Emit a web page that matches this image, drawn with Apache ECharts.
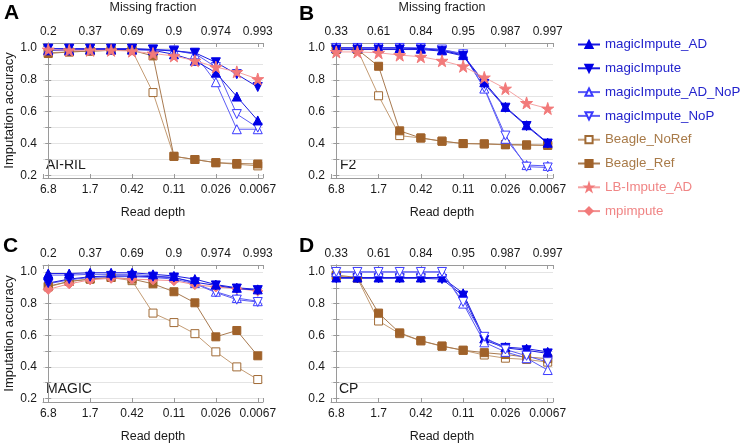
<!DOCTYPE html>
<html>
<head>
<meta charset="utf-8">
<script src="https://cdn.jsdelivr.net/npm/echarts@6/dist/echarts.min.js"></script>
<style>
  html, body { margin: 0; padding: 0; background: #fff; }
  #chart { width: 742px; height: 445px; }
</style>
</head>
<body>
<div id="chart"></div>
<script>
// ---------- DATA ----------
const readDepthLabels = ['6.8', '1.7', '0.42', '0.11', '0.026', '0.0067'];
const missingLabelsAC = ['0.2', '0.37', '0.69', '0.9', '0.974', '0.993'];
const missingLabelsBD = ['0.33', '0.61', '0.84', '0.95', '0.987', '0.997'];
const seriesNames = ['magicImpute_AD', 'magicImpute', 'magicImpute_AD_NoP', 'magicImpute_NoP',
                     'Beagle_NoRef', 'Beagle_Ref', 'LB-Impute_AD', 'mpimpute'];
const panelNames = ['AI-RIL', 'F2', 'MAGIC', 'CP'];

// Panel A (AI-RIL)
const A_magicImpute_AD     = [0.985, 0.985, 0.99, 0.99, 0.99, 0.985, 0.96, 0.92, 0.845, 0.695, 0.545];
const A_magicImpute        = [0.995, 0.995, 0.995, 0.995, 0.995, 0.99, 0.98, 0.97, 0.91, 0.835, 0.755];
const A_magicImpute_AD_NoP = [0.99, 0.99, 0.99, 0.99, 0.99, 0.99, 0.985, 0.96, 0.785, 0.49, 0.49];
const A_magicImpute_NoP    = [0.995, 0.995, 0.995, 0.995, 0.995, 0.99, 0.985, 0.965, 0.88, 0.585, 0.50];
const A_Beagle_NoRef       = [0.97, 0.975, 0.98, 0.985, 0.985, 0.72, 0.32, 0.30, 0.28, 0.27, 0.26];
const A_Beagle_Ref         = [0.965, 0.975, 0.98, 0.985, 0.985, 0.95, 0.32, 0.30, 0.28, 0.275, 0.272];
const A_LB_Impute_AD       = [0.99, 0.985, 0.985, 0.985, 0.98, 0.965, 0.95, 0.92, 0.88, 0.85, 0.805];

// Panel B (F2)
const B_magicImpute_AD     = [1.0, 1.0, 1.0, 1.0, 0.995, 0.985, 0.955, 0.785, 0.63, 0.515, 0.405];
const B_magicImpute        = [0.99, 0.99, 0.99, 0.99, 0.99, 0.98, 0.95, 0.775, 0.625, 0.51, 0.40];
const B_magicImpute_AD_NoP = [1.0, 1.0, 1.0, 1.0, 1.0, 0.99, 0.965, 0.745, 0.43, 0.265, 0.26];
const B_magicImpute_NoP    = [1.0, 1.0, 1.0, 1.0, 1.0, 0.99, 0.96, 0.75, 0.45, 0.255, 0.25];
const B_Beagle_NoRef       = [0.99, 0.99, 0.70, 0.45, 0.435, 0.415, 0.40, 0.398, 0.392, 0.39, 0.388];
const B_Beagle_Ref         = [0.99, 0.99, 0.885, 0.48, 0.435, 0.415, 0.40, 0.398, 0.394, 0.392, 0.39];
const B_LB_Impute_AD       = [0.975, 0.975, 0.97, 0.955, 0.945, 0.92, 0.885, 0.815, 0.745, 0.655, 0.62];

// Panel C (MAGIC)
const C_magicImpute_AD     = [0.99, 0.99, 0.995, 0.995, 0.995, 0.985, 0.975, 0.955, 0.92, 0.90, 0.89];
const C_magicImpute        = [0.93, 0.955, 0.97, 0.975, 0.975, 0.97, 0.965, 0.935, 0.915, 0.895, 0.885];
const C_magicImpute_AD_NoP = [0.98, 0.98, 0.985, 0.985, 0.985, 0.975, 0.965, 0.93, 0.875, 0.835, 0.815];
const C_magicImpute_NoP    = [0.925, 0.95, 0.965, 0.97, 0.97, 0.965, 0.955, 0.925, 0.87, 0.825, 0.81];
const C_Beagle_NoRef       = [0.905, 0.94, 0.955, 0.965, 0.945, 0.74, 0.68, 0.61, 0.495, 0.40, 0.32];
const C_Beagle_Ref         = [0.91, 0.94, 0.955, 0.965, 0.955, 0.925, 0.875, 0.805, 0.59, 0.63, 0.47];
const C_mpimpute           = [0.89, 0.925, 0.95, 0.96, 0.955, 0.95, 0.945, 0.92, 0.905, 0.895, 0.88];

// Panel D (CP)
const D_magicImpute_AD     = [0.965, 0.965, 0.965, 0.965, 0.965, 0.965, 0.865, 0.58, 0.525, 0.515, 0.495];
const D_magicImpute        = [0.96, 0.96, 0.96, 0.96, 0.96, 0.955, 0.85, 0.57, 0.52, 0.505, 0.485];
const D_magicImpute_AD_NoP = [1.0, 1.0, 1.0, 1.0, 1.0, 1.0, 0.80, 0.555, 0.495, 0.455, 0.38];
const D_magicImpute_NoP    = [1.0, 1.0, 1.0, 1.0, 1.0, 1.0, 0.81, 0.59, 0.51, 0.47, 0.43];
const D_Beagle_NoRef       = [0.975, 0.96, 0.69, 0.61, 0.565, 0.53, 0.505, 0.475, 0.455, 0.447, 0.43];
const D_Beagle_Ref         = [0.98, 0.965, 0.74, 0.615, 0.565, 0.532, 0.505, 0.49, 0.478, 0.462, 0.452];

// ---------- STYLES ----------
const FONT = 'Liberation Sans, Arial, sans-serif';
const STAR = 'path://M50,0 L61,35 L98,35 L68,57 L79,91 L50,70 L21,91 L32,57 L2,35 L39,35 Z';
const styles = {
  'magicImpute_AD':     { symbol: 'triangle', rot: 0,   size: 9,  fill: '#0000e6', stroke: '#0000e6', line: '#1a1ae0' },
  'magicImpute':        { symbol: 'triangle', rot: 180, size: 9,  fill: '#0000e6', stroke: '#0000e6', line: '#1a1ae0' },
  'magicImpute_AD_NoP': { symbol: 'triangle', rot: 0,   size: 9,  fill: '#ffffff', stroke: '#3a3aff', line: '#5c5cf5' },
  'magicImpute_NoP':    { symbol: 'triangle', rot: 180, size: 9,  fill: '#ffffff', stroke: '#3a3aff', line: '#5c5cf5' },
  'Beagle_NoRef':       { symbol: 'rect',     rot: 0,   size: 8,  fill: '#ffffff', stroke: '#a06a35', line: '#c49c74' },
  'Beagle_Ref':         { symbol: 'rect',     rot: 0,   size: 8,  fill: '#a0622a', stroke: '#a0622a', line: '#a87a50' },
  'LB-Impute_AD':       { symbol: STAR,       rot: 0,   size: 12, fill: '#f27a7a', stroke: '#f27a7a', line: '#f5a3a3' },
  'mpimpute':           { symbol: 'diamond',  rot: 0,   size: 10, fill: '#f27a7a', stroke: '#f27a7a', line: '#f29090' }
};
const legendTextColor = {
  'magicImpute_AD': '#2323cc', 'magicImpute': '#2323cc', 'magicImpute_AD_NoP': '#2323cc', 'magicImpute_NoP': '#2323cc',
  'Beagle_NoRef': '#a87a48', 'Beagle_Ref': '#a87a48', 'LB-Impute_AD': '#f08585', 'mpimpute': '#f08585'
};

const panels = [
  { letter: 'A', label: panelNames[0], grid: { left: 43, top: 42, width: 220, height: 136 }, yMin: 0.184, yMax: 1.031,
    top: missingLabelsAC, yName: true, topName: true, labelPos: [46, 158], letterPos: [4, 3],
    data: { 'Beagle_NoRef': A_Beagle_NoRef, 'Beagle_Ref': A_Beagle_Ref, 'magicImpute_AD_NoP': A_magicImpute_AD_NoP,
            'magicImpute_NoP': A_magicImpute_NoP, 'magicImpute_AD': A_magicImpute_AD, 'magicImpute': A_magicImpute,
            'LB-Impute_AD': A_LB_Impute_AD } },
  { letter: 'B', label: panelNames[1], grid: { left: 331, top: 42, width: 222, height: 136 }, yMin: 0.184, yMax: 1.031,
    top: missingLabelsBD, yName: false, topName: true, labelPos: [340, 158], letterPos: [299, 4],
    data: { 'Beagle_NoRef': B_Beagle_NoRef, 'Beagle_Ref': B_Beagle_Ref, 'magicImpute_AD_NoP': B_magicImpute_AD_NoP,
            'magicImpute_NoP': B_magicImpute_NoP, 'magicImpute_AD': B_magicImpute_AD, 'magicImpute': B_magicImpute,
            'LB-Impute_AD': B_LB_Impute_AD } },
  { letter: 'C', label: panelNames[2], grid: { left: 43, top: 265, width: 220, height: 137 }, yMin: 0.178, yMax: 1.044,
    top: missingLabelsAC, yName: true, topName: false, labelPos: [46, 382], letterPos: [3, 236],
    data: { 'Beagle_NoRef': C_Beagle_NoRef, 'Beagle_Ref': C_Beagle_Ref, 'magicImpute_AD_NoP': C_magicImpute_AD_NoP,
            'magicImpute_NoP': C_magicImpute_NoP, 'mpimpute': C_mpimpute, 'magicImpute': C_magicImpute,
            'magicImpute_AD': C_magicImpute_AD } },
  { letter: 'D', label: panelNames[3], grid: { left: 331, top: 265, width: 222, height: 137 }, yMin: 0.178, yMax: 1.044,
    top: missingLabelsBD, yName: false, topName: false, labelPos: [339, 382], letterPos: [299, 236],
    data: { 'Beagle_NoRef': D_Beagle_NoRef, 'Beagle_Ref': D_Beagle_Ref, 'magicImpute_AD': D_magicImpute_AD,
            'magicImpute': D_magicImpute, 'magicImpute_AD_NoP': D_magicImpute_AD_NoP, 'magicImpute_NoP': D_magicImpute_NoP } }
];

// ---------- BUILD OPTION ----------
const AXIS_COLOR = '#9a9a9a';
const TEXT_COLOR = '#1a1a1a';
function xFormatter(labels) {
  return function (v) {
    if (Math.abs(v - Math.round(v)) > 1e-6) return '';
    const r = Math.round(v);
    return (r % 2 === 0 && r >= 0 && r <= 10) ? labels[r / 2] : '';
  };
}
function yFormatter(v) {
  if (v < 0.19 || v > 1.01) return '';
  return Math.abs(v * 5 - Math.round(v * 5)) < 1e-6 ? v.toFixed(1) : '';
}

const grids = [], xAxes = [], yAxes = [], series = [], graphics = [];
panels.forEach((p, i) => {
  grids.push(Object.assign({ containLabel: false }, p.grid));
  const common = {
    type: 'value', gridIndex: i, min: -0.25, max: 10.25, minInterval: 2, maxInterval: 2,
    axisLine: { show: true, lineStyle: { color: AXIS_COLOR, width: 1 } },
    axisTick: { show: true, inside: true, length: 4, lineStyle: { color: AXIS_COLOR } },
    splitLine: { show: false },
    axisLabel: { color: TEXT_COLOR, fontFamily: FONT, fontSize: 12, showMinLabel: true, showMaxLabel: true }
  };
  xAxes.push(Object.assign({}, common, {
    position: 'bottom',
    name: 'Read depth', nameLocation: 'middle', nameGap: 28,
    nameTextStyle: { color: TEXT_COLOR, fontFamily: FONT, fontSize: 12.5 },
    axisLabel: Object.assign({}, common.axisLabel, { margin: 6, formatter: xFormatter(readDepthLabels) })
  }));
  xAxes.push(Object.assign({}, common, {
    position: 'top',
    name: p.topName ? 'Missing fraction' : '', nameLocation: 'middle', nameGap: 29,
    nameTextStyle: { color: TEXT_COLOR, fontFamily: FONT, fontSize: 12.5 },
    axisLabel: Object.assign({}, common.axisLabel, { margin: 5, formatter: xFormatter(p.top) })
  }));
  const ycommon = {
    type: 'value', gridIndex: i, min: p.yMin, max: p.yMax, minInterval: 0.1, maxInterval: 0.1,
    axisLine: { show: true, lineStyle: { color: AXIS_COLOR, width: 1 } },
    axisTick: { show: true, inside: true, length: 3, lineStyle: { color: AXIS_COLOR } }
  };
  yAxes.push(Object.assign({}, ycommon, {
    position: 'left',
    name: p.yName ? 'Imputation accuracy' : '', nameLocation: 'middle', nameGap: 27, nameRotate: 90,
    nameTextStyle: { color: TEXT_COLOR, fontFamily: FONT, fontSize: 13 },
    splitLine: { show: true, lineStyle: { color: '#e4e4e4', width: 1 } },
    axisLabel: { color: TEXT_COLOR, fontFamily: FONT, fontSize: 12, margin: 6, formatter: yFormatter }
  }));
  yAxes.push(Object.assign({}, ycommon, {
    position: 'right',
    splitLine: { show: false },
    axisLabel: { show: false }
  }));
  Object.keys(p.data).forEach(name => {
    const st = styles[name];
    series.push({
      name: name, type: 'line', xAxisIndex: 2 * i, yAxisIndex: 2 * i,
      data: p.data[name].map((v, k) => [k, v]),
      symbol: st.symbol, symbolSize: st.size, symbolRotate: st.rot, showAllSymbol: true,
      lineStyle: { color: st.line, width: 1 },
      itemStyle: { color: st.fill, borderColor: st.stroke, borderWidth: 1 },
      emphasis: { disabled: true }, animation: false, clip: false, z: 2
    });
  });
  graphics.push({ type: 'text', left: p.letterPos[0], top: p.letterPos[1],
    style: { text: p.letter, font: 'bold 21px ' + FONT, fill: '#000' } });
  graphics.push({ type: 'text', left: p.labelPos[0], top: p.labelPos[1],
    style: { text: p.label, font: '14px ' + FONT, fill: TEXT_COLOR } });
});

const option = {
  backgroundColor: '#fff',
  animation: false,
  grid: grids, xAxis: xAxes, yAxis: yAxes, series: series, graphic: graphics,
  legend: {
    orient: 'vertical', left: 572, top: 32.5, itemWidth: 22, itemHeight: 9, itemGap: 9.8,
    selectedMode: false,
    data: seriesNames.map(n => ({ name: n, textStyle: { color: legendTextColor[n] } })),
    textStyle: { fontFamily: FONT, fontSize: 13.3, lineHeight: 14 }
  }
};

const chart = echarts.init(document.getElementById('chart'), null, { renderer: 'canvas' });
chart.setOption(option);
</script>
</body>
</html>
